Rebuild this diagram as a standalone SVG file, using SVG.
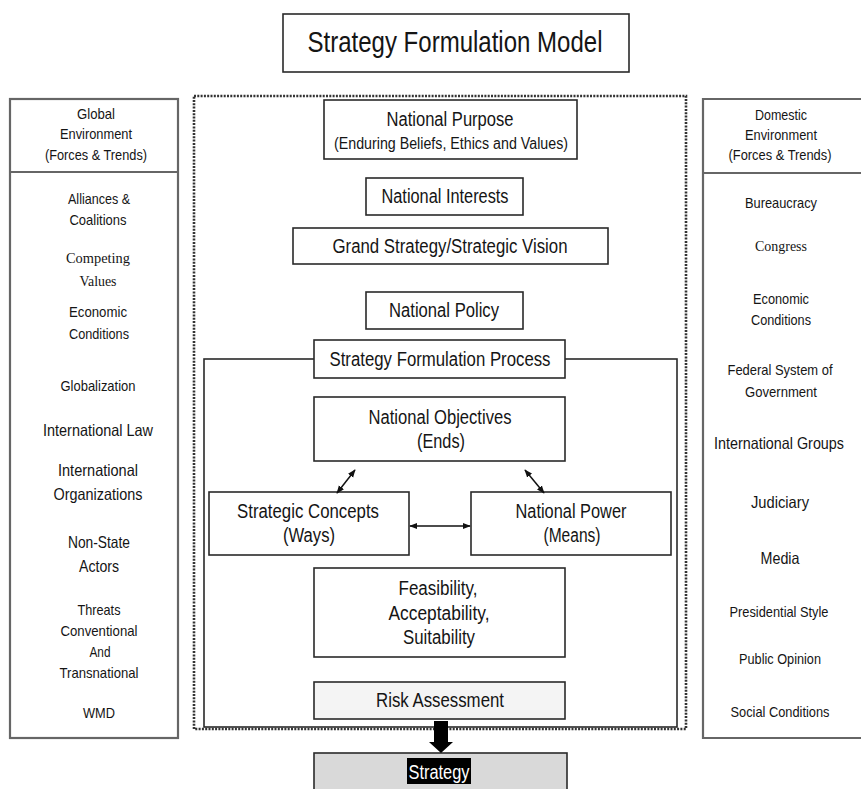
<svg xmlns="http://www.w3.org/2000/svg" width="861" height="789" viewBox="0 0 861 789">
<defs>
<style>
.t{font-family:"Liberation Sans Narrow","Liberation Sans",Arial,sans-serif;fill:#151515;text-anchor:middle}
.s{font-family:"Liberation Serif","Times New Roman",serif;fill:#151515;text-anchor:middle}
.box{fill:#fff;stroke:#2a2a2a;stroke-width:1.6}
.panel{fill:#fff;stroke:#666;stroke-width:2.2}
.f20{font-size:20px}
.f16{font-size:16.5px}
.f14{font-size:15.5px}
.f13{font-size:14.5px}
.con{stroke:#111;stroke-width:1.5;fill:none}
</style>
<marker id="ah" viewBox="0 0 10 10" refX="9" refY="5" markerWidth="8" markerHeight="8" orient="auto-start-reverse" markerUnits="userSpaceOnUse">
<path d="M0,1 L10,5 L0,9 z" fill="#111"/>
</marker>
</defs>
<rect width="861" height="789" fill="#fff"/>

<g id="title">
<rect class="box" x="283" y="14" width="346" height="58"/>
<text class="t" x="455" y="52" font-size="29" textLength="295" lengthAdjust="spacingAndGlyphs">Strategy Formulation Model</text>
</g>

<g id="global-environment">
<rect class="panel" x="10" y="99" width="168" height="639"/>
<line x1="10" y1="172" x2="178" y2="172" stroke="#666" stroke-width="2.2"/>
<text class="t f13" x="96" y="119" textLength="38" lengthAdjust="spacingAndGlyphs">Global</text>
<text class="t f13" x="96" y="139" textLength="72" lengthAdjust="spacingAndGlyphs">Environment</text>
<text class="t f13" x="96" y="160" textLength="102" lengthAdjust="spacingAndGlyphs">(Forces &amp; Trends)</text>
<text class="t f13" x="99" y="204" textLength="62" lengthAdjust="spacingAndGlyphs">Alliances &amp;</text>
<text class="t f13" x="98" y="225" textLength="57" lengthAdjust="spacingAndGlyphs">Coalitions</text>
<text class="s f14" x="98" y="263" textLength="64" lengthAdjust="spacingAndGlyphs">Competing</text>
<text class="s f14" x="98" y="286" textLength="37" lengthAdjust="spacingAndGlyphs">Values</text>
<text class="t f13" x="98" y="317" textLength="58" lengthAdjust="spacingAndGlyphs">Economic</text>
<text class="t f13" x="99" y="339" textLength="60" lengthAdjust="spacingAndGlyphs">Conditions</text>
<text class="t f13" x="98" y="391" textLength="75" lengthAdjust="spacingAndGlyphs">Globalization</text>
<text class="t f16" x="98" y="436" textLength="110" lengthAdjust="spacingAndGlyphs">International Law</text>
<text class="t f16" x="98" y="476" textLength="80" lengthAdjust="spacingAndGlyphs">International</text>
<text class="t f16" x="98" y="500" textLength="89" lengthAdjust="spacingAndGlyphs">Organizations</text>
<text class="t f16" x="99" y="548" textLength="62" lengthAdjust="spacingAndGlyphs">Non-State</text>
<text class="t f16" x="99" y="572" textLength="40" lengthAdjust="spacingAndGlyphs">Actors</text>
<text class="t f13" x="99" y="615" textLength="43" lengthAdjust="spacingAndGlyphs">Threats</text>
<text class="t f13" x="99" y="636" textLength="77" lengthAdjust="spacingAndGlyphs">Conventional</text>
<text class="t f13" x="100" y="657" textLength="21" lengthAdjust="spacingAndGlyphs">And</text>
<text class="t f13" x="99" y="678" textLength="79" lengthAdjust="spacingAndGlyphs">Transnational</text>
<text class="t f13" x="99" y="718" textLength="32" lengthAdjust="spacingAndGlyphs">WMD</text>
</g>

<g id="domestic-environment">
<path class="panel" d="M861,99 H703 V738 H861"/>
<line x1="703" y1="173" x2="861" y2="173" stroke="#666" stroke-width="2.2"/>
<text class="t f13" x="781" y="120" textLength="52" lengthAdjust="spacingAndGlyphs">Domestic</text>
<text class="t f13" x="781" y="140" textLength="72" lengthAdjust="spacingAndGlyphs">Environment</text>
<text class="t f13" x="780" y="160" textLength="103" lengthAdjust="spacingAndGlyphs">(Forces &amp; Trends)</text>
<text class="t f13" x="781" y="208" textLength="72" lengthAdjust="spacingAndGlyphs">Bureaucracy</text>
<text class="s f14" x="781" y="251" textLength="52" lengthAdjust="spacingAndGlyphs">Congress</text>
<text class="t f13" x="781" y="304" textLength="56" lengthAdjust="spacingAndGlyphs">Economic</text>
<text class="t f13" x="781" y="325" textLength="60" lengthAdjust="spacingAndGlyphs">Conditions</text>
<text class="t f13" x="780" y="375" textLength="105" lengthAdjust="spacingAndGlyphs">Federal System of</text>
<text class="t f13" x="781" y="397" textLength="72" lengthAdjust="spacingAndGlyphs">Government</text>
<text class="t f16" x="779" y="449" textLength="130" lengthAdjust="spacingAndGlyphs">International Groups</text>
<text class="t f16" x="780" y="508" textLength="58" lengthAdjust="spacingAndGlyphs">Judiciary</text>
<text class="t f16" x="780" y="564" textLength="39" lengthAdjust="spacingAndGlyphs">Media</text>
<text class="t f13" x="779" y="617" textLength="99" lengthAdjust="spacingAndGlyphs">Presidential Style</text>
<text class="t f13" x="780" y="664" textLength="82" lengthAdjust="spacingAndGlyphs">Public Opinion</text>
<text class="t f13" x="780" y="717" textLength="99" lengthAdjust="spacingAndGlyphs">Social Conditions</text>
</g>

<g id="strategy-area">
<rect x="194" y="96" width="492" height="633" fill="none" stroke="#333" stroke-width="2.6" stroke-dasharray="2 1.3"/>
</g>

<g id="process-frame">
<rect x="204" y="359" width="473" height="368" fill="none" stroke="#2a2a2a" stroke-width="1.6"/>
</g>

<g id="national-purpose">
<rect class="box" x="324" y="100" width="253" height="59"/>
<text class="t f20" x="450" y="126" textLength="127" lengthAdjust="spacingAndGlyphs">National Purpose</text>
<text class="t" x="451" y="149" font-size="16" textLength="234" lengthAdjust="spacingAndGlyphs">(Enduring Beliefs, Ethics and Values)</text>
</g>

<g id="national-interests">
<rect class="box" x="366" y="178" width="157" height="37"/>
<text class="t f20" x="445" y="203" textLength="127" lengthAdjust="spacingAndGlyphs">National Interests</text>
</g>

<g id="grand-strategy">
<rect class="box" x="293" y="228" width="315" height="36"/>
<text class="t f20" x="450" y="253" textLength="235" lengthAdjust="spacingAndGlyphs">Grand Strategy/Strategic Vision</text>
</g>

<g id="national-policy">
<rect class="box" x="366" y="292" width="157" height="37"/>
<text class="t f20" x="444" y="317" textLength="110" lengthAdjust="spacingAndGlyphs">National Policy</text>
</g>

<g id="process-label">
<rect class="box" x="314" y="340" width="251" height="38"/>
<text class="t f20" x="440" y="366" textLength="221" lengthAdjust="spacingAndGlyphs">Strategy Formulation Process</text>
</g>

<g id="national-objectives">
<rect class="box" x="314" y="397" width="251" height="64"/>
<text class="t f20" x="440" y="424" textLength="143" lengthAdjust="spacingAndGlyphs">National Objectives</text>
<text class="t f20" x="441" y="448" textLength="48" lengthAdjust="spacingAndGlyphs">(Ends)</text>
</g>

<g id="strategic-concepts">
<rect class="box" x="209" y="492" width="200" height="63"/>
<text class="t f20" x="308" y="518" textLength="142" lengthAdjust="spacingAndGlyphs">Strategic Concepts</text>
<text class="t f20" x="309" y="542" textLength="52" lengthAdjust="spacingAndGlyphs">(Ways)</text>
</g>

<g id="national-power">
<rect class="box" x="471" y="492" width="200" height="63"/>
<text class="t f20" x="571" y="518" textLength="111" lengthAdjust="spacingAndGlyphs">National Power</text>
<text class="t f20" x="572" y="542" textLength="57" lengthAdjust="spacingAndGlyphs">(Means)</text>
</g>

<g id="feasibility">
<rect class="box" x="314" y="568" width="251" height="89"/>
<text class="t f20" x="438" y="595" textLength="79" lengthAdjust="spacingAndGlyphs">Feasibility,</text>
<text class="t f20" x="439" y="620" textLength="101" lengthAdjust="spacingAndGlyphs">Acceptability,</text>
<text class="t f20" x="439" y="644" textLength="72" lengthAdjust="spacingAndGlyphs">Suitability</text>
</g>

<g id="risk-assessment">
<rect x="314" y="682" width="251" height="37" fill="#f4f4f4" stroke="#2a2a2a" stroke-width="1.6"/>
<text class="t f20" x="440" y="707" textLength="128" lengthAdjust="spacingAndGlyphs">Risk Assessment</text>
</g>

<g id="strategy">
<rect x="314" y="753" width="253" height="45" fill="#d9d9d9" stroke="#2a2a2a" stroke-width="1.6"/>
<rect x="407" y="758" width="64" height="26" fill="#000"/>
<text class="t f20" x="439" y="779" style="fill:#fff" textLength="61" lengthAdjust="spacingAndGlyphs">Strategy</text>
</g>

<g id="connectors">
<line class="con" x1="337" y1="493" x2="355" y2="470" marker-start="url(#ah)" marker-end="url(#ah)"/>
<line class="con" x1="525" y1="470" x2="544" y2="493" marker-start="url(#ah)" marker-end="url(#ah)"/>
<line class="con" x1="410" y1="526" x2="470" y2="526" marker-start="url(#ah)" marker-end="url(#ah)"/>
<polygon points="434,721 448,721 448,742 453,742 441,753 429,742 434,742" fill="#000"/>
</g>
</svg>
